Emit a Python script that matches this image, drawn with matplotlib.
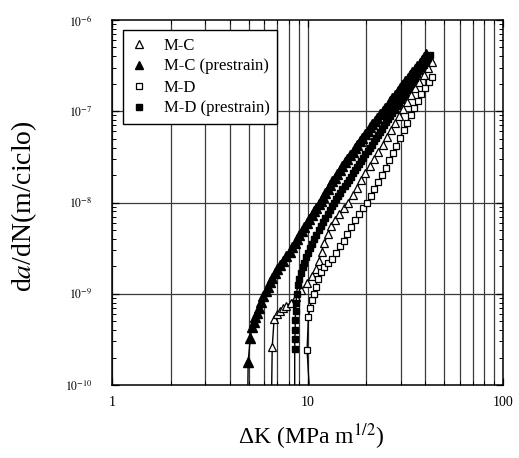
import matplotlib
matplotlib.use("Agg")
import matplotlib.pyplot as plt
from matplotlib.ticker import FixedLocator, FixedFormatter, NullFormatter

plt.rcParams['font.family'] = 'serif'
plt.rcParams['font.serif'] = ['Liberation Serif', 'DejaVu Serif']
plt.rcParams['mathtext.fontset'] = 'stix'

# Crack growth data: stress intensity range (MPa m^1/2) and da/dN (m/cycle)
mc_k = [6.55, 6.6, 6.75, 6.95, 7.2, 7.5, 7.8, 8.2, 8.7, 9.3, 9.9, 10.5, 11.0, 11.4,
        11.8, 12.2, 12.7, 13.2, 13.8, 14.5, 15.3, 16.1, 17.0, 17.9, 18.8, 19.8,
        20.8, 21.9, 23.0, 24.2, 25.4, 26.7, 28.0, 29.4, 30.8, 32.3, 33.9, 35.6,
        37.4, 39.3, 41.3, 43.3]
mc_dadn = [8e-11, 2.6e-10, 5.3e-10, 6.0e-10, 6.5e-10, 6.9e-10, 7.3e-10, 8.0e-10,
           9.2e-10, 1.1e-9, 1.3e-9, 1.55e-9, 1.85e-9, 2.3e-9, 2.9e-9, 3.6e-9,
           4.5e-9, 5.5e-9, 6.5e-9, 7.5e-9, 8.7e-9, 1.0e-8, 1.2e-8, 1.45e-8,
           1.75e-8, 2.1e-8, 2.5e-8, 3.0e-8, 3.6e-8, 4.3e-8, 5.2e-8, 6.2e-8,
           7.4e-8, 8.9e-8, 1.06e-7, 1.27e-7, 1.5e-7, 1.78e-7, 2.1e-7, 2.5e-7,
           2.95e-7, 3.5e-7]

mcp_k = [4.95, 4.97, 5.1, 5.2, 5.3, 5.4, 5.5, 5.65, 5.8, 5.95,
         6.1, 6.25, 6.4, 6.6, 6.8, 7.0, 7.2, 7.5, 7.8, 8.1,
         8.35, 8.6, 8.85, 9.1, 9.35, 9.6, 9.9, 10.2, 10.5, 10.8,
         11.1, 11.4, 11.7, 12.0, 12.35, 12.7, 13.05, 13.4, 13.8, 14.2,
         14.65, 15.1, 15.55, 16.0, 16.5, 17.0, 17.5, 18.0, 18.55, 19.1,
         19.7, 20.3, 20.9, 21.5, 22.15, 22.8, 23.5, 24.2, 24.95, 25.7,
         26.45, 27.2, 28.05, 28.9, 29.75, 30.6, 31.55, 32.5, 33.45, 34.4,
         35.45, 36.5, 37.6, 38.7, 39.6, 40.5]
mcp_dadn = [8e-11, 1.8e-10, 3.3e-10, 4.3e-10, 4.9e-10, 5.5e-10, 6.2e-10, 7e-10, 8.2e-10, 9.5e-10,
            1.07e-9, 1.2e-9, 1.35e-9, 1.5e-9, 1.67e-9, 1.85e-9, 2.05e-9, 2.3e-9, 2.6e-9, 2.9e-9,
            3.25e-9, 3.6e-9, 4.0e-9, 4.4e-9, 4.9e-9, 5.4e-9, 6.0e-9, 6.6e-9, 7.3e-9, 8.0e-9,
            8.8e-9, 9.6e-9, 1.05e-8, 1.15e-8, 1.27e-8, 1.4e-8, 1.55e-8, 1.7e-8, 1.87e-8, 2.05e-8,
            2.27e-8, 2.5e-8, 2.75e-8, 3.0e-8, 3.3e-8, 3.6e-8, 3.95e-8, 4.3e-8, 4.7e-8, 5.1e-8,
            5.6e-8, 6.1e-8, 6.65e-8, 7.2e-8, 7.85e-8, 8.5e-8, 9.25e-8, 1.0e-7, 1.09e-7, 1.18e-7,
            1.29e-7, 1.4e-7, 1.52e-7, 1.65e-7, 1.8e-7, 1.95e-7, 2.12e-7, 2.3e-7, 2.5e-7, 2.7e-7,
            2.92e-7, 3.15e-7, 3.4e-7, 3.65e-7, 3.92e-7, 4.2e-7]

md_k = [10.25, 9.95, 10.1, 10.3, 10.5, 10.75, 11.0, 11.3, 11.7, 12.2, 12.8, 13.4,
        14.0, 14.6, 15.3, 16.0, 16.7, 17.5, 18.4, 19.3, 20.2, 21.1, 22.0, 23.0,
        24.0, 25.1, 26.2, 27.3, 28.5, 29.7, 31.0, 32.3, 33.7, 35.1, 36.6, 38.2,
        39.9, 41.6, 43.3]
md_dadn = [8e-11, 2.4e-10, 5.5e-10, 7e-10, 8.5e-10, 1.0e-9, 1.2e-9, 1.45e-9,
           1.75e-9, 1.95e-9, 2.15e-9, 2.4e-9, 2.8e-9, 3.3e-9, 3.8e-9, 4.5e-9,
           5.4e-9, 6.4e-9, 7.5e-9, 8.7e-9, 1.0e-8, 1.18e-8, 1.4e-8, 1.68e-8,
           2.0e-8, 2.4e-8, 2.9e-8, 3.5e-8, 4.2e-8, 5.1e-8, 6.2e-8, 7.5e-8,
           9.0e-8, 1.08e-7, 1.3e-7, 1.55e-7, 1.82e-7, 2.1e-7, 2.4e-7]

mdp_k = [8.6, 8.6, 8.62, 8.65, 8.65, 8.7, 8.75, 8.8, 8.9,
         9.05, 9.25, 9.45, 9.65, 9.85, 10.05, 10.3, 10.55, 10.8, 11.1,
         11.4, 11.7, 12.0, 12.35, 12.7, 13.0, 13.35, 13.7, 14.05,
         14.4, 14.75, 15.1, 15.5, 15.9, 16.3, 16.7, 17.1, 17.5, 17.95,
         18.4, 18.85, 19.3, 19.8, 20.3, 20.8, 21.3, 21.85, 22.4, 22.95,
         23.5, 24.1, 24.7, 25.3, 25.9, 26.55, 27.2, 27.9, 28.6, 29.3,
         30.0, 30.75, 31.5, 32.3, 33.1, 33.95, 34.8, 35.65, 36.5, 37.4,
         38.3, 39.25, 40.2, 41.2, 42.2]
mdp_dadn = [8e-11, 2.5e-10, 3.2e-10, 4e-10, 5.2e-10, 6.5e-10, 8e-10, 1.0e-9, 1.25e-9,
            1.45e-9, 1.7e-9, 1.95e-9, 2.2e-9, 2.5e-9, 2.8e-9, 3.15e-9, 3.5e-9, 3.95e-9, 4.4e-9,
            4.95e-9, 5.5e-9, 6.1e-9, 6.8e-9, 7.5e-9, 8.3e-9, 9.1e-9, 1.0e-8, 1.09e-8,
            1.18e-8, 1.28e-8, 1.39e-8, 1.51e-8, 1.63e-8, 1.77e-8, 1.92e-8, 2.08e-8, 2.25e-8, 2.45e-8,
            2.65e-8, 2.87e-8, 3.1e-8, 3.37e-8, 3.65e-8, 3.97e-8, 4.3e-8, 4.67e-8, 5.05e-8, 5.5e-8,
            5.95e-8, 6.45e-8, 7.0e-8, 7.6e-8, 8.2e-8, 8.9e-8, 9.6e-8, 1.04e-7, 1.13e-7, 1.23e-7,
            1.33e-7, 1.44e-7, 1.56e-7, 1.69e-7, 1.83e-7, 1.99e-7, 2.15e-7, 2.34e-7, 2.53e-7, 2.75e-7,
            2.97e-7, 3.22e-7, 3.5e-7, 3.8e-7, 4.1e-7]

series_labels = ['M-C', 'M-C (prestrain)', 'M-D', 'M-D (prestrain)']

x_ticks = [1, 10, 100]
x_tick_labels = ['1', '10', '100']
y_ticks = [1e-10, 1e-9, 1e-8, 1e-7, 1e-6]
y_tick_labels = [r'$10^{-10}$', r'$10^{-9}$', r'$10^{-8}$', r'$10^{-7}$', r'$10^{-6}$']

fig = plt.figure(figsize=(5.19, 4.58), dpi=100)
ax = fig.add_axes([112 / 519, 73 / 458, 391 / 519, 365 / 458])
ax.set_xscale('log')
ax.set_yscale('log')
ax.set_xlim(1, 100)
ax.set_ylim(1e-10, 1e-6)

# grid: every integer K vertically, decades horizontally
minor_x = [m * d for d in (1, 10) for m in range(2, 10)]
for xv in minor_x + x_ticks:
    ax.axvline(xv, color='#3a3a3a', lw=0.9, zorder=1)
for yv in y_ticks[1:-1]:
    ax.axhline(yv, color='#3a3a3a', lw=0.9, zorder=1)

ax.plot(mc_k, mc_dadn, '-', color='black', lw=1.0, marker='^', ms=6,
        mfc='white', mec='black', mew=0.9, label=series_labels[0], zorder=3)
ax.plot(md_k, md_dadn, '-', color='black', lw=1.0, marker='s', ms=5,
        mfc='white', mec='black', mew=0.9, label=series_labels[2], zorder=3)
ax.plot(mdp_k, mdp_dadn, '-', color='black', lw=1.0, marker='s', ms=5,
        mfc='black', mec='black', label=series_labels[3], zorder=4)
ax.plot(mcp_k, mcp_dadn, '-', color='black', lw=1.0, marker='^', ms=6.5,
        mfc='black', mec='black', label=series_labels[1], zorder=4)

ax.xaxis.set_major_locator(FixedLocator(x_ticks))
ax.xaxis.set_major_formatter(FixedFormatter(x_tick_labels))
ax.xaxis.set_minor_locator(FixedLocator(minor_x))
ax.xaxis.set_minor_formatter(NullFormatter())
ax.yaxis.set_major_locator(FixedLocator(y_ticks))
ax.yaxis.set_major_formatter(FixedFormatter(y_tick_labels))
minor_y = [m * 10.0 ** e for e in range(-10, -6) for m in range(2, 10)]
ax.yaxis.set_minor_locator(FixedLocator(minor_y))
ax.yaxis.set_minor_formatter(NullFormatter())

ax.tick_params(which='both', direction='in', top=True, right=True, color='black')
ax.tick_params(which='major', length=5, width=0.9)
ax.tick_params(which='minor', length=3, width=0.7)
ax.tick_params(axis='x', labelsize=10, pad=8)
ax.tick_params(axis='y', labelsize=8.5, pad=14)
for sp in ax.spines.values():
    sp.set_linewidth(1.1)
    sp.set_color('black')
    sp.set_zorder(5)

ax.set_xlabel(r'ΔK (MPa m$^{1/2}$)', fontsize=17)
ax.xaxis.set_label_coords(0.51, -0.1)
ax.set_ylabel(r'd$a$/dN(m/ciclo)', fontsize=20)
ax.yaxis.set_label_coords(-0.187, 0.49)

handles, labels = ax.get_legend_handles_labels()
order = [labels.index(l) for l in series_labels]
leg = ax.legend([handles[i] for i in order], [labels[i] for i in order],
                loc='upper left', bbox_to_anchor=(11 / 391, 1 - 10 / 365),
                borderaxespad=0, frameon=True, fancybox=False, framealpha=1,
                edgecolor='black', fontsize=12, handlelength=1.0,
                handletextpad=1.0, labelspacing=0.3, borderpad=0.45,
                markerscale=0.85)
leg.get_frame().set_linewidth(1.0)
for h in leg.legend_handles:
    h.set_linestyle('none')
leg.set_zorder(6)

fig.savefig('out.png', dpi=100)
